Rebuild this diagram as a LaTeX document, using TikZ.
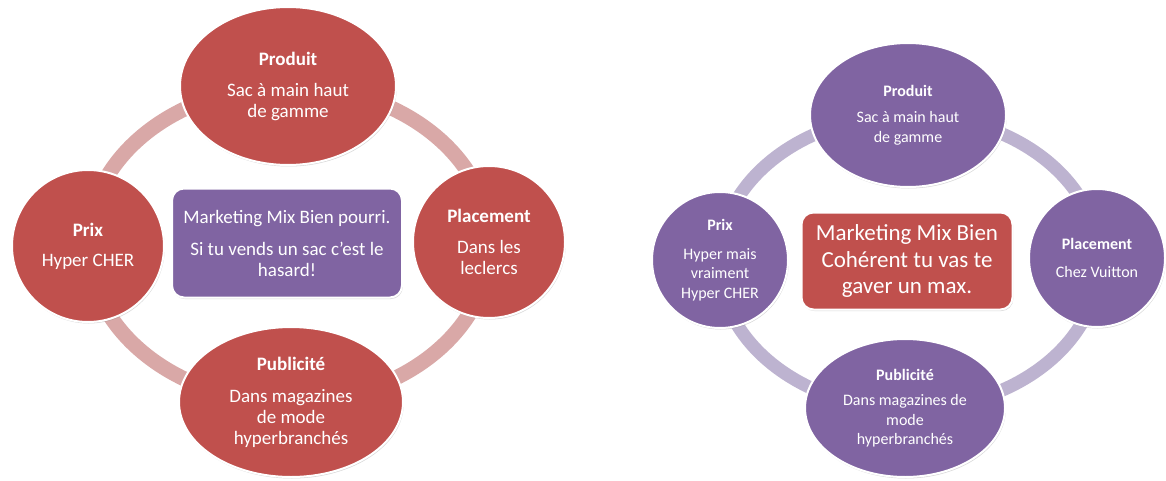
\documentclass[tikz,border=0pt]{standalone}
\usepackage{fontspec}
\setmainfont{Carlito}
\usetikzlibrary{shapes.geometric,shadows}
\definecolor{mred}{HTML}{C0504D}
\definecolor{mpurple}{HTML}{8064A2}
\definecolor{ringred}{HTML}{D9A8A7}
\definecolor{ringpurple}{HTML}{BDB3D0}
\begin{document}
\begin{tikzpicture}[x=1pt,y=-1pt,
  blob/.style={ellipse, draw=white, line width=2pt, text=white, align=center, inner sep=0pt,
    drop shadow={opacity=0.3, shadow xshift=0.8pt, shadow yshift=-1.5pt}},
  redblob/.style={blob, fill=mred},
  purpblob/.style={blob, fill=mpurple},
  bigfont/.style={font=\fontsize{19}{21}\selectfont},
  smallfont/.style={font=\fontsize{16}{19.5}\selectfont},
  centerbox/.style={rectangle, rounded corners=12pt, draw=white, line width=2pt, text=white, align=center, inner sep=0pt,
    drop shadow={opacity=0.3, shadow xshift=0.8pt, shadow yshift=-1.5pt}},
  ringL/.style={draw=ringred, line width=15pt},
  ringR/.style={draw=ringpurple, line width=13pt}
]
\useasboundingbox[fill=white] (0,0) rectangle (1166,481);
% ---------- left diagram ----------
\coordinate (cL) at (289,244);
\draw[ringL] (cL) ellipse [x radius=201pt, y radius=158pt];
\node[redblob, bigfont, minimum width=216pt, minimum height=158pt] (prodL) at (288,86)
  {\textbf{Produit}\\[10pt]Sac à main haut\\de gamme};
\node[redblob, bigfont, minimum width=152pt, minimum height=152pt] (prixL) at (88,246)
  {\textbf{Prix}\\[9pt]Hyper CHER};
\node[redblob, bigfont, minimum width=152pt, minimum height=152pt] (placL) at (489,242)
  {\textbf{Placement}\\[10pt]Dans les\\leclercs};
\node[redblob, bigfont, minimum width=224pt, minimum height=150pt] (pubL) at (291,402)
  {\textbf{Publicité}\\[11pt]Dans magazines\\de mode\\hyperbranchés};
\node[centerbox, bigfont, fill=mpurple, minimum width=230pt, minimum height=109pt] (boxL) at (287,243)
  {Marketing Mix Bien pourri.\\[11pt]Si tu vends un sac c'est le\\hasard!};
% ---------- right diagram ----------
\coordinate (cR) at (909,262);
\draw[ringR] (cR) ellipse [x radius=190pt, y radius=147pt];
\node[purpblob, smallfont, minimum width=196pt, minimum height=144pt] (prodR) at (908,115)
  {\textbf{Produit}\\[7pt]Sac à main haut\\de gamme};
\node[purpblob, smallfont, minimum width=136pt, minimum height=136pt] (prixR) at (720,260)
  {\textbf{Prix}\\[9pt]Hyper mais\\vraiment\\Hyper CHER};
\node[purpblob, smallfont, minimum width=136pt, minimum height=138pt] (placR) at (1097,258)
  {\textbf{Placement}\\[9pt]Chez Vuitton};
\node[purpblob, smallfont, minimum width=200pt, minimum height=138pt] (pubR) at (905,408)
  {\textbf{Publicité}\\[6pt]Dans magazines de\\mode\\hyperbranchés};
\node[centerbox, font=\fontsize{23}{26.5}\selectfont, fill=mred, minimum width=211pt, minimum height=97pt] (boxR) at (907,261)
  {Marketing Mix Bien\\Cohérent tu vas te\\gaver un max.};
\end{tikzpicture}
\end{document}
